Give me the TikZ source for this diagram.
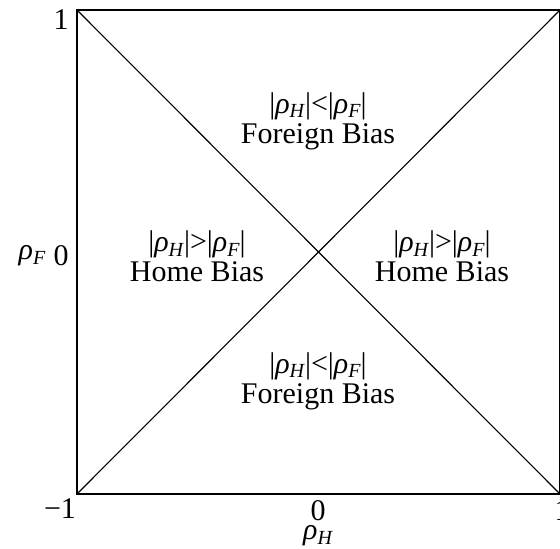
\documentclass[tikz,border=0pt]{standalone}
\usepackage{fontspec}
\setmainfont{Liberation Serif}
\newcommand{\rh}{\textit{ρ}\raisebox{-0.16em}{\fontsize{20}{20}\selectfont\textit{H}}}
\newcommand{\rf}{\textit{ρ}\raisebox{-0.16em}{\fontsize{20}{20}\selectfont\textit{F}}}
\begin{document}
\begin{tikzpicture}[x=1pt,y=-1pt,
  lbl/.style={font=\fontsize{30}{28}\selectfont, align=center, inner sep=0pt},
  tick/.style={font=\fontsize{30}{30}\selectfont, inner sep=0pt},
  ln/.style={line width=1.1pt, black}]
\useasboundingbox[fill=white] (0,0) rectangle (560,549);
\clip (0,0) rectangle (560,549);
\coordinate (tl) at (77,10);
\coordinate (tr) at (560,10);
\coordinate (bl) at (77,494);
\coordinate (br) at (560,494);
\draw[ln] (tl) -- (tr) -- (br) -- (bl) -- cycle;
\draw[ln] (tl) -- (br);
\draw[ln] (bl) -- (tr);
\node[lbl] (top) at (318,121) {|\rh|<|\rf|\\[2pt]Foreign Bias};
\node[lbl] (left) at (197,256) {|\rh|>|\rf|\\[2pt]Home Bias};
\node[lbl] (right) at (442,256) {|\rh|>|\rf|\\[2pt]Home Bias};
\node[lbl] (bot) at (318,381) {|\rh|<|\rf|\\[2pt]Foreign Bias};
\node[tick] (y1) at (61,20) {1};
\node[tick] (y0) at (61,256) {0};
\node[tick] (yr) at (32,256) {\rf};
\node[tick] (ym) at (60,509) {−1};
\node[tick] (x0) at (318,511) {0};
\node[tick] (xr) at (318,536) {\rh};
\node[tick] (x1) at (562,511) {1};
\end{tikzpicture}
\end{document}
